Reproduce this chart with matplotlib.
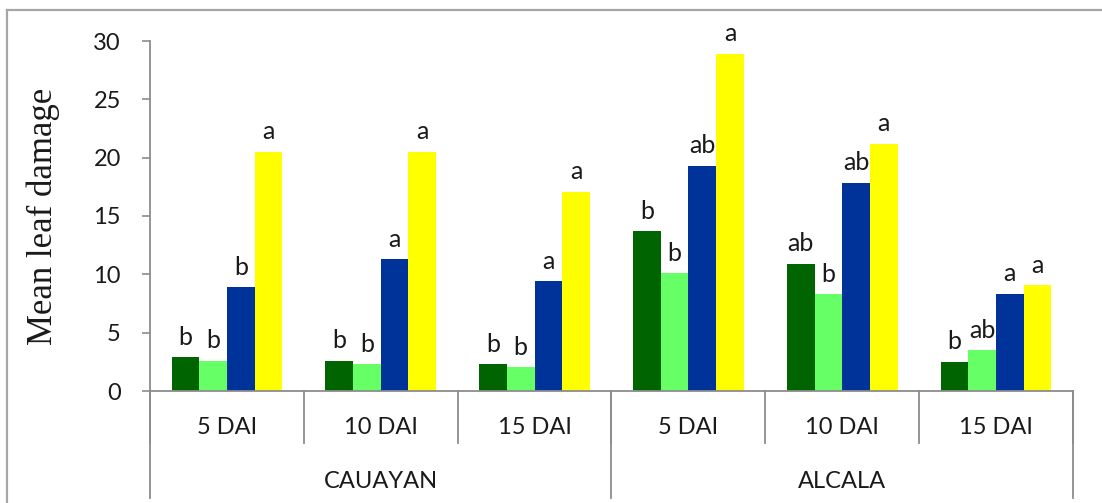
import matplotlib
matplotlib.use("Agg")
import matplotlib.pyplot as plt
from matplotlib.lines import Line2D
import numpy as np

# ---- data ----
sites = ["CAUAYAN", "ALCALA"]
days = ["5 DAI", "10 DAI", "15 DAI"]
categories = [d for s in sites for d in days]
series_colors = ["#006400", "#66FF66", "#003399", "#FFFF00"]

s1 = [2.9, 2.6, 2.3, 13.7, 10.9, 2.5]
s2 = [2.6, 2.3, 2.05, 10.1, 8.3, 3.5]
s3 = [8.9, 11.3, 9.4, 19.3, 17.85, 8.35]
s4 = [20.5, 20.5, 17.1, 28.9, 21.2, 9.05]
series = [s1, s2, s3, s4]

lab1 = ["b", "b", "b", "b", "ab", "b"]
lab2 = ["b", "b", "b", "b", "b", "ab"]
lab3 = ["b", "a", "a", "ab", "ab", "a"]
lab4 = ["a", "a", "a", "a", "a", "a"]
labels = [lab1, lab2, lab3, lab4]

yticks = [0, 5, 10, 15, 20, 25, 30]
ylabel = "Mean leaf damage"

# ---- figure ----
W, H = 1102, 503
fig = plt.figure(figsize=(W / 100, H / 100), dpi=100)
fig.patch.set_facecolor("white")
ax = fig.add_axes([150 / W, (H - 391) / H, (1073 - 150) / W, 350 / H])

font = "Lato"
txtc = "#1a1a1a"
gray = "#8c8c8c"

n = len(categories)
x = np.arange(n)
bw = 0.18
for i, (vals, col, labs) in enumerate(zip(series, series_colors, labels)):
    xs = x + (i - 1.5) * bw
    ax.bar(xs, vals, width=bw, color=col, edgecolor="none", zorder=2)
    for xi, v, l in zip(xs, vals, labs):
        ax.annotate(l, (xi, v), xytext=(0, 9), textcoords="offset points",
                    ha="center", va="baseline", fontsize=18, family=font,
                    color=txtc)

ax.set_xlim(-0.5, n - 0.5)
ax.set_ylim(0, 30)
ax.set_yticks(yticks)
ax.set_yticklabels([str(t) for t in yticks], fontsize=17, family=font, color=txtc)
ax.tick_params(axis="y", direction="out", length=6, width=1.2, color=gray, pad=15)
ax.set_xticks([])
for sp in ["top", "right"]:
    ax.spines[sp].set_visible(False)
for sp in ["left", "bottom"]:
    ax.spines[sp].set_color(gray)
    ax.spines[sp].set_linewidth(1.3)

ax.set_ylabel(ylabel, family="Liberation Serif", fontsize=25, color=txtc, labelpad=24)

tr = ax.get_xaxis_transform()
# first-level dividers
for b in np.arange(n + 1) - 0.5:
    ax.plot([b, b], [0, -0.149], transform=tr, color=gray, lw=1.3, clip_on=False)
# second-level dividers
for b in [-0.5, 2.5, 5.5]:
    ax.plot([b, b], [0, -0.306], transform=tr, color=gray, lw=1.3, clip_on=False)

for xi, c in zip(x, categories):
    ax.text(xi, -0.103, c, transform=tr, ha="center", va="center",
            fontsize=17, family=font, color=txtc)
for k, s in enumerate(sites):
    ax.text(1 + 3 * k, -0.26, s, transform=tr, ha="center", va="center",
            fontsize=17, family=font, color=txtc)

# outer frame (top and left edges)
fig.add_artist(Line2D([7 / W, 7 / W], [0, 1 - 10 / H], color="#a6a6a6", lw=1.6))
fig.add_artist(Line2D([7 / W, 1], [1 - 10 / H, 1 - 10 / H], color="#a6a6a6", lw=1.6))

fig.savefig("out.png", dpi=100)
